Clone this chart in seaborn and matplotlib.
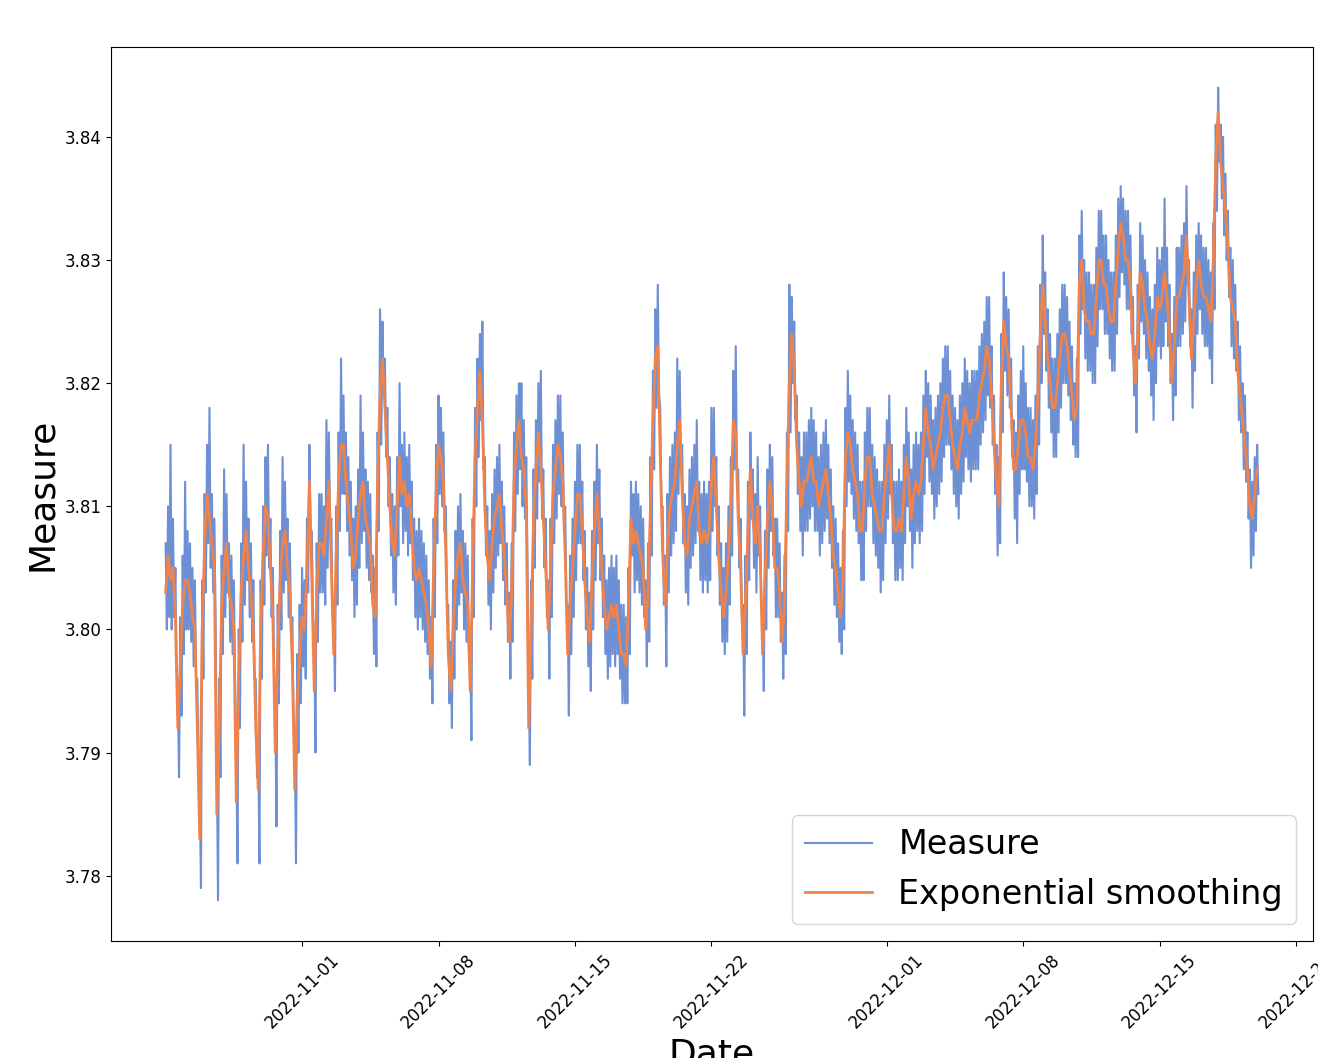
import numpy as np
import pandas as pd
import matplotlib
matplotlib.use("Agg")
import matplotlib.pyplot as plt
import seaborn as sns

# All values in thousandths above 3.800; one row per day, 3-hour slots, start 2022-10-25 00:00.
# measure_top: upper edge of the measure band read at each slot,
# measure_low: lower edge read 1.5 h later; smoothing_milli: the orange curve at each slot.
START = "2022-10-25 00:00"
BASE = 3.8

measure_top = [
    7, 10, 15, 9, 5, -5, 1, 6,
    12, 8, 7, 5, 4, -4, -13, 4,
    11, 15, 18, 11, 9, -11, -4, 6,
    13, 11, 7, 6, 4, -10, 0, 7,
    15, 12, 9, 7, 4, -4, -9, 4,
    10, 14, 15, 9, 5, -6, 2, 8,
    14, 12, 9, 7, 1, -9, -2, 2,
    5, 4, 9, 15, 8, -1, 7, 11,
    11, 10, 17, 16, 9, 2, 10, 16,
    22, 19, 16, 14, 12, 9, 10, 13,
    19, 16, 13, 12, 11, 6, 5, 16,
    26, 25, 22, 18, 14, 11, 10, 14,
    20, 15, 16, 14, 15, 12, 9, 8,
    9, 8, 7, 6, 4, 1, 9, 15,
    19, 18, 16, 10, 2, -1, 4, 8,
    10, 11, 8, 7, 6, -1, 9, 18,
    22, 24, 25, 14, 10, 8, 11, 13,
    14, 15, 12, 10, 7, 3, 7, 16,
    19, 20, 20, 17, 14, -4, 4, 13,
    17, 20, 21, 13, 9, 4, 9, 15,
    17, 19, 19, 16, 10, 2, 6, 9,
    12, 15, 15, 12, 8, 5, 3, 8,
    12, 15, 13, 9, 6, 4, 5, 6,
    5, 6, 4, 2, 2, 1, 5, 12,
    11, 12, 11, 10, 9, 4, 7, 14,
    21, 26, 28, 18, 10, 6, 11, 14,
    15, 16, 22, 21, 15, 11, 10, 13,
    14, 15, 17, 12, 11, 12, 11, 12,
    18, 18, 14, 10, 7, 5, 7, 10,
    14, 21, 23, 13, 9, 2, 6, 12,
    16, 13, 11, 14, 10, 2, 8, 13,
    15, 14, 9, 9, 7, 3, 6, 16,
    28, 27, 25, 19, 16, 14, 16, 16,
    17, 18, 17, 16, 14, 15, 16, 17,
    15, 13, 10, 9, 7, 5, 8, 18,
    21, 19, 17, 16, 15, 12, 12, 16,
    18, 18, 15, 14, 13, 12, 12, 15,
    17, 19, 15, 12, 12, 13, 12, 15,
    18, 16, 13, 15, 16, 15, 16, 19,
    21, 20, 19, 17, 18, 19, 20, 22,
    23, 23, 21, 19, 18, 17, 19, 20,
    22, 21, 20, 21, 21, 21, 23, 24,
    25, 27, 27, 23, 19, 15, 14, 24,
    29, 27, 26, 22, 17, 16, 19, 21,
    23, 20, 18, 18, 17, 19, 23, 28,
    32, 29, 26, 24, 22, 22, 24, 26,
    28, 28, 27, 25, 23, 20, 22, 32,
    34, 30, 29, 29, 28, 28, 31, 34,
    34, 32, 32, 30, 29, 29, 32, 35,
    36, 35, 34, 34, 32, 27, 23, 28,
    33, 32, 30, 29, 27, 26, 28, 31,
    30, 31, 35, 31, 28, 24, 27, 31,
    31, 32, 33, 36, 30, 26, 29, 32,
    33, 32, 31, 31, 30, 29, 33, 41,
    44, 41, 40, 37, 34, 31, 30, 28,
    25, 23, 20, 19, 16, 13, 12, 14,
    15,
]

measure_low = [
    0, 1, 0, 1, -3, -12, -7, -2,
    0, 0, -1, -3, -4, -12, -21, -4,
    3, 7, 5, 3, 1, -22, -12, -2,
    1, 3, -1, -2, -4, -19, -8, -1,
    2, 4, 1, -1, -4, -12, -19, -4,
    2, 6, 5, 1, -3, -16, -6, 0,
    3, 4, 1, -1, -7, -19, -10, -6,
    -3, -4, 3, 8, 1, -10, -1, 3,
    3, 2, 5, 8, 1, -5, 2, 8,
    11, 11, 8, 6, 4, 1, 2, 5,
    7, 8, 5, 4, 3, -2, -3, 8,
    15, 19, 14, 10, 6, 3, 2, 6,
    10, 7, 8, 6, 7, 4, 1, 0,
    1, 0, -1, -2, -4, -6, 1, 7,
    11, 10, 8, 2, -6, -8, -4, 0,
    2, 3, 0, -1, -2, -9, 1, 10,
    14, 17, 13, 6, 2, 0, 3, 5,
    6, 7, 4, 2, -1, -4, -1, 8,
    11, 13, 10, 9, 6, -11, -4, 5,
    9, 12, 9, 5, 1, -4, 1, 7,
    9, 11, 10, 8, 2, -7, -2, 1,
    4, 7, 7, 4, 0, -3, -5, 0,
    4, 7, 4, 1, -2, -4, -3, -2,
    -3, -2, -4, -6, -6, -6, -2, 6,
    3, 4, 3, 2, 1, -3, -1, 6,
    13, 18, 19, 10, 2, -3, 3, 6,
    7, 8, 11, 13, 7, 3, 2, 5,
    6, 7, 8, 4, 3, 4, 3, 4,
    8, 10, 6, 2, -1, -2, -1, 2,
    6, 13, 12, 5, 1, -7, -2, 4,
    9, 5, 3, 6, 2, -5, 0, 5,
    8, 6, 1, 1, -1, -4, -2, 8,
    16, 20, 17, 11, 8, 6, 8, 8,
    9, 10, 8, 8, 6, 7, 8, 9,
    7, 5, 2, 1, -1, -2, 0, 10,
    12, 11, 9, 8, 7, 4, 4, 8,
    10, 10, 7, 6, 5, 3, 4, 7,
    9, 11, 7, 4, 4, 5, 4, 7,
    10, 8, 5, 7, 8, 7, 8, 11,
    14, 12, 11, 9, 10, 11, 12, 14,
    15, 15, 13, 11, 10, 9, 11, 12,
    14, 13, 12, 13, 13, 13, 15, 16,
    17, 19, 18, 15, 11, 6, 7, 16,
    21, 19, 18, 14, 9, 7, 11, 13,
    13, 12, 10, 10, 9, 11, 15, 20,
    24, 21, 18, 16, 14, 14, 16, 18,
    20, 20, 19, 17, 15, 14, 14, 24,
    26, 22, 21, 21, 20, 20, 23, 26,
    26, 24, 24, 22, 21, 21, 24, 27,
    29, 28, 26, 26, 24, 19, 16, 22,
    25, 24, 22, 21, 19, 17, 20, 23,
    22, 23, 25, 23, 20, 17, 19, 23,
    23, 24, 25, 28, 23, 18, 21, 24,
    26, 24, 23, 23, 22, 20, 26, 34,
    38, 35, 32, 30, 27, 23, 22, 21,
    17, 16, 13, 12, 9, 5, 6, 8,
    11,
]

smoothing_milli = [
    3, 6, 4, 5, 1, -8, -3, 2,
    4, 4, 3, 1, 0, -8, -17, 0,
    7, 11, 9, 7, 5, -15, -8, 2,
    5, 7, 3, 2, 0, -14, -4, 3,
    6, 8, 5, 3, 0, -8, -13, 0,
    6, 10, 9, 5, 1, -10, -2, 4,
    7, 8, 5, 3, -3, -13, -6, -2,
    1, 0, 5, 12, 4, -5, 3, 7,
    7, 6, 9, 12, 5, -2, 6, 12,
    15, 15, 12, 10, 8, 5, 6, 9,
    11, 12, 9, 8, 7, 2, 1, 12,
    19, 22, 18, 14, 10, 7, 6, 10,
    14, 11, 12, 10, 11, 8, 5, 4,
    5, 4, 3, 2, 0, -3, 5, 11,
    15, 14, 12, 6, -2, -5, 0, 4,
    6, 7, 4, 3, 2, -5, 5, 14,
    18, 21, 17, 10, 6, 4, 7, 9,
    10, 11, 8, 6, 3, -1, 3, 12,
    15, 17, 14, 13, 10, -8, 0, 9,
    13, 16, 13, 9, 5, 0, 5, 11,
    13, 15, 14, 12, 6, -2, 2, 5,
    8, 11, 11, 8, 4, 1, -1, 4,
    8, 11, 8, 5, 2, 0, 1, 2,
    1, 2, 0, -2, -2, -3, 2, 9,
    7, 8, 7, 6, 5, 0, 3, 10,
    17, 22, 23, 14, 6, 2, 7, 10,
    11, 12, 15, 17, 11, 7, 6, 9,
    10, 11, 12, 8, 7, 8, 7, 8,
    12, 14, 10, 6, 3, 1, 3, 6,
    10, 17, 16, 9, 5, -2, 2, 8,
    13, 9, 7, 10, 6, -2, 4, 9,
    12, 10, 5, 5, 3, -1, 2, 12,
    20, 24, 21, 15, 12, 10, 12, 12,
    13, 14, 12, 12, 10, 11, 12, 13,
    11, 9, 6, 5, 3, 1, 4, 14,
    16, 15, 13, 12, 11, 8, 8, 12,
    14, 14, 11, 10, 9, 8, 8, 11,
    13, 15, 11, 8, 8, 9, 8, 11,
    14, 12, 9, 11, 12, 11, 12, 15,
    18, 16, 15, 13, 14, 15, 16, 18,
    19, 19, 17, 15, 14, 13, 15, 16,
    18, 17, 16, 17, 17, 17, 19, 20,
    21, 23, 22, 19, 15, 12, 10, 20,
    25, 23, 22, 18, 13, 13, 15, 17,
    17, 16, 14, 14, 13, 15, 19, 24,
    28, 25, 22, 20, 18, 18, 20, 22,
    24, 24, 23, 21, 19, 17, 18, 28,
    30, 26, 25, 25, 24, 24, 27, 30,
    30, 28, 28, 26, 25, 25, 28, 31,
    33, 32, 30, 30, 28, 23, 20, 24,
    29, 28, 26, 25, 23, 22, 24, 27,
    26, 27, 29, 27, 24, 20, 23, 27,
    27, 28, 29, 32, 27, 22, 25, 28,
    30, 28, 27, 27, 26, 25, 30, 38,
    42, 38, 36, 34, 31, 27, 26, 25,
    21, 19, 17, 15, 13, 10, 9, 11,
    13,
]

# Measure readings in time order: band top at each slot, band bottom 1.5 h later
n = min(len(measure_top), len(measure_low))
measure_seq = np.column_stack([measure_top[:n], measure_low[:n]]).ravel()
measure_df = pd.DataFrame({
    "Date": pd.date_range(START, periods=len(measure_seq), freq="90min"),
    "Measure": BASE + measure_seq / 1000.0,
})
smooth_df = pd.DataFrame({
    "Date": pd.date_range(START, periods=len(smoothing_milli), freq="3h"),
    "Smoothing": BASE + np.array(smoothing_milli) / 1000.0,
})

W, H = 1318, 1058
fig = plt.figure(figsize=(W / 100, H / 100), dpi=100)
ax = fig.add_axes([111 / W, 1 - 941 / H, (1313 - 111) / W, (941 - 47) / H])

sns.lineplot(data=measure_df, x="Date", y="Measure", ax=ax, color="#6d8fd3",
             linewidth=1.5, label="Measure", estimator=None)
sns.lineplot(data=smooth_df, x="Date", y="Smoothing", ax=ax, color="#f0834c",
             linewidth=2.0, label="Exponential smoothing", estimator=None)

ax.set_xlabel("Date", fontsize=26)
ax.set_ylabel("Measure", fontsize=26)
ax.tick_params(labelsize=12)
plt.setp(ax.get_xticklabels(), rotation=45)
ax.legend(loc="lower right", fontsize=24)

fig.savefig("out.png", dpi=100)
